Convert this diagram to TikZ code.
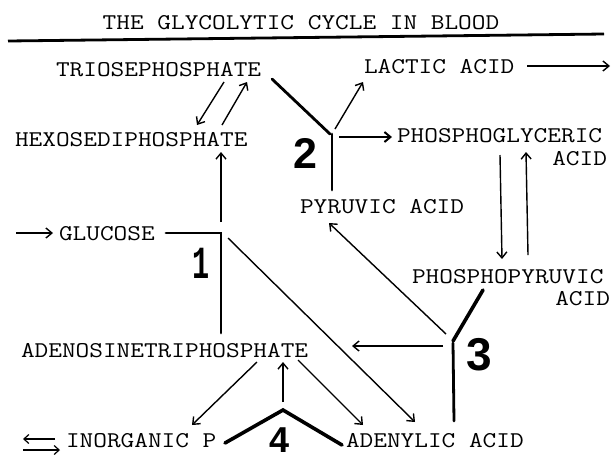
\documentclass[tikz,border=0pt]{standalone}
\usepackage{fontspec}
\usepackage{graphicx}
\usetikzlibrary{arrows.meta}
\newfontfamily\digsans{Liberation Sans}
\newfontfamily\digmono{Liberation Mono}
\newcommand{\tw}[1]{\scalebox{1.18}[1]{\fontsize{22.5}{27}\selectfont\ttfamily\addfontfeatures{FakeBold=2.5}#1}}
\begin{document}
\begin{tikzpicture}[x=1pt,y=1pt,
  lbl/.style={inner sep=0pt, outer sep=0pt},
  heavy/.style={line width=2.8pt, line cap=round, line join=miter},
  heavier/.style={line width=3.6pt, line cap=round, line join=miter},
  arr/.style={line width=1.4pt, -{Straight Barb[length=6pt,width=10pt]}},
  arrb/.style={line width=2pt, -{Straight Barb[length=6pt,width=10pt]}},
  num/.style={inner sep=0pt, outer sep=0pt, anchor=base}]
\useasboundingbox (0,0) rectangle (612,-459);
% title and rule
\node[lbl, anchor=base] (title) at (301,-29) {\tw{THE GLYCOLYTIC CYCLE IN BLOOD}};
\coordinate (ruleL) at (8,-41);
\coordinate (ruleR) at (604,-34);
\draw[line width=2.8pt] (ruleL) -- (ruleR);
% text nodes
\node[lbl, anchor=base west] (trio) at (56,-76) {\tw{TRIOSEPHOSPHATE}};
\node[lbl, anchor=base west] (hexo) at (15,-146) {\tw{HEXOSEDIPHOSPHATE}};
\node[lbl, anchor=base west] (lact) at (364,-73) {\tw{LACTIC ACID}};
\node[lbl, anchor=base west] (pga) at (397,-142) {\tw{PHOSPHOGLYCERIC}};
\node[lbl, anchor=base east] (pgaacid) at (607,-165) {\tw{ACID}};
\node[lbl, anchor=base west] (glu) at (59,-240) {\tw{GLUCOSE}};
\node[lbl, anchor=base west] (pyr) at (300,-213) {\tw{PYRUVIC ACID}};
\node[lbl, anchor=base west] (ppa) at (412,-283) {\tw{PHOSPHOPYRUVIC}};
\node[lbl, anchor=base east] (ppaacid) at (610,-305) {\tw{ACID}};
\node[lbl, anchor=base west] (atp) at (21,-357) {\tw{ADENOSINETRIPHOSPHATE}};
\node[lbl, anchor=base west] (inorg) at (66,-447) {\tw{INORGANIC P}};
\node[lbl, anchor=base west] (aden) at (346,-447) {\tw{ADENYLIC ACID}};
% numbers
\node[num] (n1) at (201,-278) {\scalebox{0.62}[1]{\digmono\bfseries\fontsize{46}{46}\selectfont 1}};
\node[num] (n2) at (305,-168) {\digsans\bfseries\fontsize{43}{43}\selectfont 2};
\node[num] (n3) at (479.5,-370) {\digsans\bfseries\fontsize{46}{46}\selectfont 3};
\node[num] (n4) at (280,-452) {\digsans\bfseries\fontsize{36}{36}\selectfont 4};
% junction 2
\coordinate (trioR) at (272,-79);
\coordinate (j2a) at (330,-134);
\coordinate (j2b) at (332,-134);
\coordinate (pyrT) at (332,-190);
\coordinate (j2lac) at (335,-129);
\coordinate (lacT) at (363,-82);
\coordinate (j2pga) at (339,-137);
\coordinate (pgaL) at (392,-137);
\draw[heavy] (trioR) -- (j2a);
\draw[heavy] (j2b) -- (pyrT);
\draw[arr] (j2lac) -- (lacT);
\draw[arrb] (j2pga) -- (pgaL);
% triose / hexose
\coordinate (t1s) at (224,-82);
\coordinate (t1e) at (197,-125);
\coordinate (t2s) at (222,-125);
\coordinate (t2e) at (247,-82);
\draw[arr] (t1s) -- (t1e);
\draw[arr] (t2s) -- (t2e);
% lactic out
\coordinate (lacR) at (527,-66);
\coordinate (lacOut) at (610,-66);
\draw[arr] (lacR) -- (lacOut);
% PGA <-> PPA
\coordinate (pgaB1) at (500,-155);
\coordinate (ppaT1) at (502,-259);
\coordinate (ppaT2) at (528,-255);
\coordinate (pgaB2) at (526,-152);
\draw[arr] (pgaB1) -- (ppaT1);
\draw[arr] (ppaT2) -- (pgaB2);
% glucose and junction 1
\coordinate (gluIn) at (16,-233);
\coordinate (gluL) at (53,-233);
\draw[arr] (gluIn) -- (gluL);
\coordinate (gluR) at (166,-233);
\coordinate (j1) at (221,-233);
\coordinate (atpT) at (221,-333);
\draw[heavy] (gluR) -- (j1) -- (atpT);
\coordinate (j1up) at (221,-222);
\coordinate (hexB) at (221,-152);
\draw[arr] (j1up) -- (hexB);
\coordinate (j1d) at (228,-238);
\coordinate (adenT2) at (415,-422);
\draw[arr] (j1d) -- (adenT2);
% junction 3
\coordinate (ppaB) at (483,-290);
\coordinate (j3) at (453,-341);
\coordinate (j3b) at (453,-343);
\coordinate (adenT3) at (454,-421);
\draw[heavier] (ppaB) -- (j3);
\draw[heavy] (j3b) -- (adenT3);
\coordinate (j3p) at (446,-334);
\coordinate (pyrB) at (329,-223);
\draw[arr] (j3p) -- (pyrB);
\coordinate (j3a) at (443,-346);
\coordinate (atpR) at (352,-346);
\draw[arr] (j3a) -- (atpR);
% ATP arrows
\coordinate (atpB1) at (298,-360);
\coordinate (adenT1) at (363,-425);
\draw[arr] (atpB1) -- (adenT1);
\coordinate (atpB2) at (257,-362);
\coordinate (inorgT) at (192,-425);
\draw[arr] (atpB2) -- (inorgT);
% junction 4
\coordinate (inorgR) at (225,-443);
\coordinate (j4) at (283,-410);
\coordinate (adenL) at (342,-445);
\draw[heavier] (inorgR) -- (j4) -- (adenL);
\coordinate (j4up) at (283,-402);
\coordinate (atpB3) at (283,-362);
\draw[arr] (j4up) -- (atpB3);
% exchange symbol
\coordinate (xa) at (55,-439);
\coordinate (xb) at (23,-439);
\coordinate (xc) at (23,-450);
\coordinate (xd) at (60,-450);
\draw[line width=1.2pt, -{Straight Barb[length=5pt,width=9pt]}] (xa) -- (xb);
\draw[line width=1.2pt, -{Straight Barb[length=5pt,width=9pt]}] (xc) -- (xd);
\end{tikzpicture}
\end{document}
